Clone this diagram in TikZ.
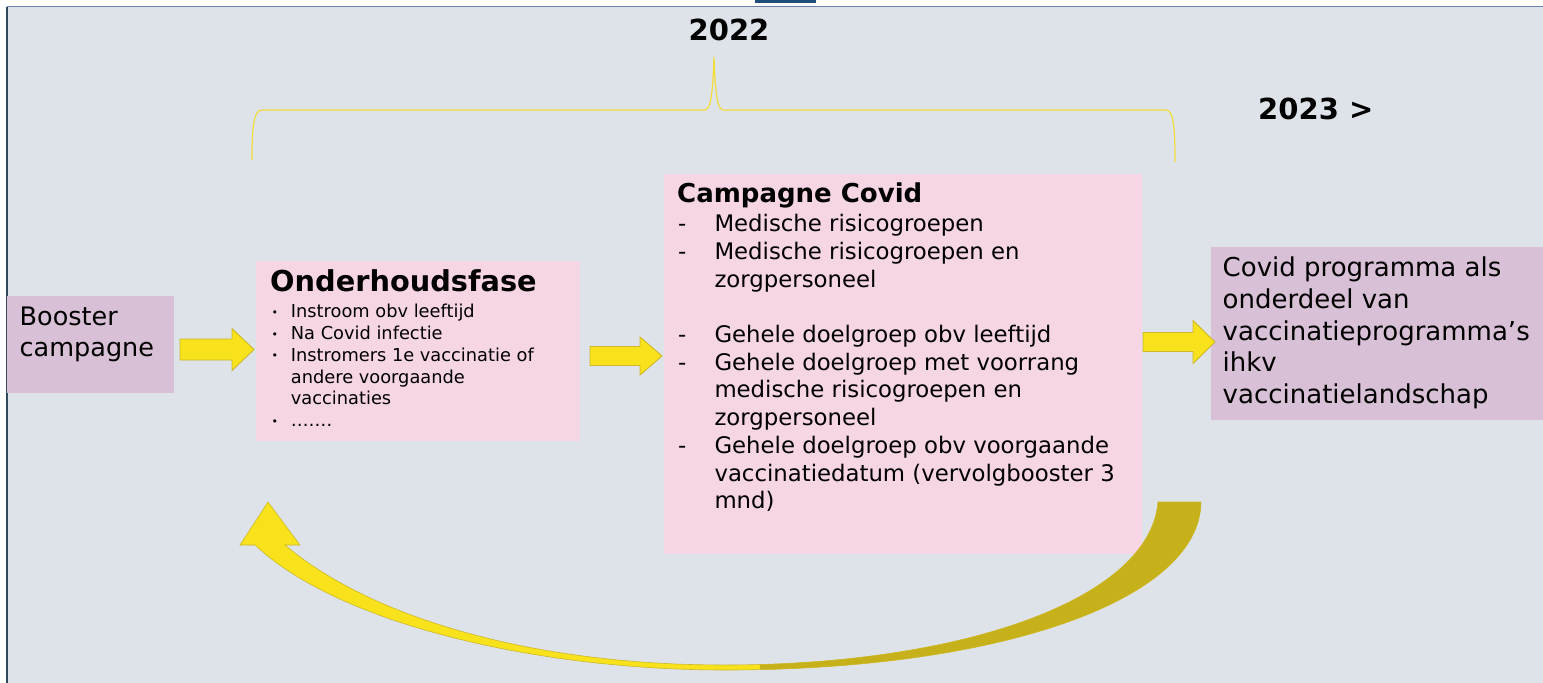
\documentclass[tikz,border=0pt]{standalone}
\usepackage{fontspec}
\setmainfont{DejaVu Sans}
\usepackage{array}
\definecolor{bgc}{HTML}{DEE3EA}
\definecolor{pinkc}{HTML}{F6D6E4}
\definecolor{mauvec}{HTML}{D8C0D6}
\definecolor{topc}{HTML}{6A86AE}
\definecolor{leftc}{HTML}{2E4A5A}
\definecolor{tabc}{HTML}{1F4E79}
\definecolor{yel}{HTML}{F8E21C}
\definecolor{yeledge}{HTML}{CDB72A}
\definecolor{olive}{HTML}{C6B11A}
\definecolor{bracec}{HTML}{F2DC3A}
\newcommand\barrow[6]{%
  \filldraw[blockarrow] (#1,{#4-#5}) -- (#3,{#4-#5}) -- (#3,{#4-#6}) -- (#2,#4) -- (#3,{#4+#6}) -- (#3,{#4+#5}) -- (#1,{#4+#5}) -- cycle;}
\begin{document}
\begin{tikzpicture}[x=1pt,y=-1pt,
  box/.style={draw=none,inner sep=0pt,anchor=north west},
  txt/.style={inner sep=0pt,anchor=base west,text=black},
  blockarrow/.style={fill=yel,draw=yeledge,line width=0.9pt,line join=miter},
  year/.style={inner sep=0pt,text=black,font=\fontsize{29}{34}\selectfont\bfseries}]
\useasboundingbox (0,0) rectangle (1543,683);
\fill[white] (0,0) rectangle (1543,683);
\fill[bgc] (7,7) rectangle (1543,683);
\draw[topc,line width=1.5pt] (7,6.5) -- (1543,6.5);
\draw[leftc,line width=1.5pt] (7,6.5) -- (7,683);
\fill[tabc] (755,0) rectangle (816,3);

% boxes
\node[box,fill=mauvec,minimum width=167pt,minimum height=97pt] (booster) at (7,296) {};
\node[box,fill=pinkc,minimum width=324pt,minimum height=180pt] (onder) at (256,260.5) {};
\node[box,fill=pinkc,minimum width=478pt,minimum height=380pt] (camp) at (664,173.5) {};
\node[box,fill=mauvec,minimum width=332pt,minimum height=173pt] (prog) at (1211,247) {};

% years and brace
\node[year,anchor=base] (y2022) at (729,40) {2022};
\node[year,anchor=base west] (y2023) at (1258,119) {2023 >};
\draw[bracec,line width=1.2pt] (252,160) .. controls (252,125) and (254,110) .. (262,110) -- (705,110)
  .. controls (712,110) and (713,82) .. (714,57) .. controls (715,82) and (716,110) .. (723,110)
  -- (1166,110) .. controls (1173,110) and (1175,125) .. (1175,162);

% texts
\node[txt,font=\fontsize{25.5}{31}\selectfont] (tbooster) at (19.5,325)
  {\begin{tabular}[t]{@{}l@{}}Booster\\campagne\end{tabular}};
\node[txt,font=\fontsize{28.8}{33}\selectfont\bfseries] (tonder) at (270,291.7) {Onderhoudsfase};
\node[txt,font=\fontsize{17.8}{21.8}\selectfont] (londer) at (271.5,317.7)
  {\begin{tabular}[t]{@{}p{19.2pt}@{}l@{}}
  {\fontsize{11}{11}\selectfont\raisebox{1.5pt}{•}} & Instroom obv leeftijd\\
  {\fontsize{11}{11}\selectfont\raisebox{1.5pt}{•}} & Na Covid infectie\\
  {\fontsize{11}{11}\selectfont\raisebox{1.5pt}{•}} & Instromers 1e vaccinatie of\\
   & andere voorgaande\\
   & vaccinaties\\
  {\fontsize{11}{11}\selectfont\raisebox{1.5pt}{•}} & …….
  \end{tabular}};
\node[txt,font=\fontsize{26}{31}\selectfont\bfseries] (tcamp) at (677,202.7) {Campagne Covid};
\node[txt,font=\fontsize{22.8}{27.7}\selectfont] (lcamp) at (678,231.7)
  {\begin{tabular}[t]{@{}p{36.3pt}@{}l@{}}
  - & Medische risicogroepen\\
  - & Medische risicogroepen en\\
    & zorgpersoneel\\
    & \\
  - & Gehele doelgroep obv leeftijd\\
  - & Gehele doelgroep met voorrang\\
    & medische risicogroepen en\\
    & zorgpersoneel\\
  - & Gehele doelgroep obv voorgaande\\
    & vaccinatiedatum (vervolgbooster 3\\
    & mnd)
  \end{tabular}};
\node[txt,font=\fontsize{26}{31.7}\selectfont] (tprog) at (1222.5,276.7)
  {\begin{tabular}[t]{@{}l@{}}Covid programma als\\onderdeel van\\vaccinatieprogramma’s\\ihkv\\vaccinatielandschap\end{tabular}};

% block arrows
\barrow{180}{254}{232}{349.5}{10.5}{21}
\barrow{590}{662}{640}{356}{9.5}{19}
\barrow{1143}{1215}{1193}{342}{9.5}{21.5}

% curved return arrow
\def\curvedpath{(1201,502) .. controls (1200,600) and (1000,670) .. (725,670)
  .. controls (540,670) and (340,625) .. (255,545) -- (240,545) -- (268,502) -- (300,545) -- (285,545)
  .. controls (370,617) and (530,665) .. (725,665)
  .. controls (960,665) and (1150,600) .. (1158,502) -- cycle}
\fill[yel] \curvedpath;
\begin{scope}
  \clip (760,480) rectangle (1230,683);
  \fill[olive] \curvedpath;
\end{scope}
\draw[yeledge,line width=0.6pt,line join=miter] \curvedpath;
\end{tikzpicture}
\end{document}
